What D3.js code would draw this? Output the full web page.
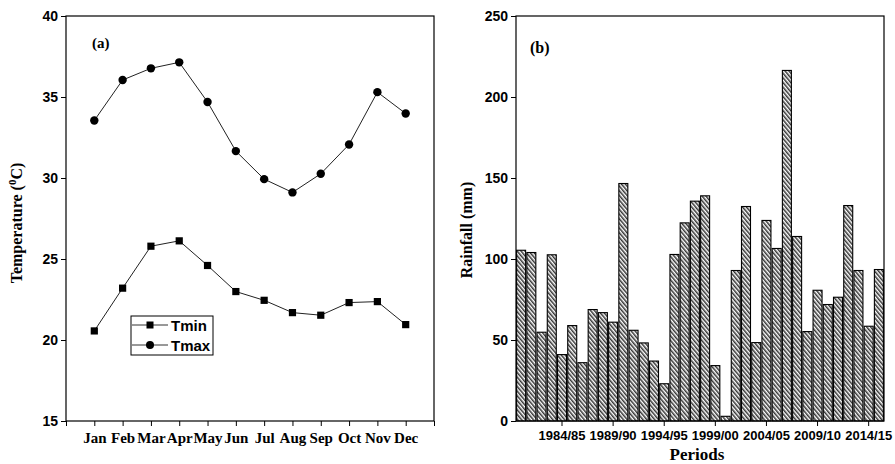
<!DOCTYPE html>
<html>
<head>
<meta charset="utf-8">
<script src="https://cdn.jsdelivr.net/npm/d3@7"></script>
<style>
  html, body { margin: 0; padding: 0; background: #fff; }
  svg { display: block; }
</style>
</head>
<body>
<svg id="chart" width="895" height="464"></svg>
<script>
// ---------- DATA ----------
const months = ["Jan","Feb","Mar","Apr","May","Jun","Jul","Aug","Sep","Oct","Nov","Dec"];
const tmin = [20.56, 23.2, 25.79, 26.12, 24.6, 22.99, 22.45, 21.69, 21.53, 22.31, 22.37, 20.95];
const tmax = [33.55, 36.05, 36.77, 37.14, 34.69, 31.66, 29.93, 29.11, 30.26, 32.07, 35.3, 33.98];
const tempTicks = [15, 20, 25, 30, 35, 40];

const periods = ["1980/81","1981/82","1982/83","1983/84","1984/85","1985/86","1986/87","1987/88","1988/89","1989/90",
  "1990/91","1991/92","1992/93","1993/94","1994/95","1995/96","1996/97","1997/98","1998/99","1999/00",
  "2000/01","2001/02","2002/03","2003/04","2004/05","2005/06","2006/07","2007/08","2008/09","2009/10",
  "2010/11","2011/12","2012/13","2013/14","2014/15","2015/16"];
const rainfall = [105.4, 104, 54.8, 102.6, 41, 58.9, 36, 68.8, 66.9, 61,
  146.6, 56, 48.2, 37, 23, 102.8, 122.3, 135.7, 139, 34.2,
  2.9, 92.9, 132.4, 48.4, 123.8, 106.5, 216.4, 113.9, 55.2, 80.7,
  71.9, 76.4, 133, 92.9, 58.5, 93.5];
const periodTicks = ["1984/85","1989/90","1994/95","1999/00","2004/05","2009/10","2014/15"];
const rainTicks = [0, 50, 100, 150, 200, 250];

// ---------- SETUP ----------
const svg = d3.select("#chart");
const SANS = "'Liberation Sans', Arial, sans-serif";
const SERIF = "'Liberation Serif', 'Times New Roman', serif";

const defs = svg.append("defs");
const pat = defs.append("pattern")
  .attr("id", "hatch")
  .attr("patternUnits", "userSpaceOnUse")
  .attr("width", 3).attr("height", 3)
  .attr("patternTransform", "rotate(-40)");
pat.append("rect").attr("width", 3).attr("height", 3).attr("fill", "#fff");
pat.append("line").attr("x1", 0.8).attr("y1", 0).attr("x2", 0.8).attr("y2", 3)
  .attr("stroke", "#111").attr("stroke-width", 1.3);

const plotTop = 16, plotBottom = 421;

function styleAxis(g, fontFamily, fontSize) {
  g.select(".domain").remove();
  g.selectAll(".tick line").attr("stroke", "#000").attr("stroke-width", 1);
  g.selectAll(".tick text")
    .attr("fill", "#000")
    .style("font-family", fontFamily)
    .style("font-weight", "bold")
    .style("font-size", fontSize + "px");
}

// ---------- PANEL A ----------
const xA = d3.scaleLinear().domain([0, 13]).range([66, 434]);
const yA = d3.scaleLinear().domain([15, 40]).range([plotBottom, plotTop]);

const gAy = svg.append("g").attr("transform", `translate(${xA.range()[0]},0)`)
  .call(d3.axisLeft(yA).tickValues(tempTicks).tickSize(5).tickPadding(3).tickFormat(d3.format("d")));
styleAxis(gAy, SANS, 14);

const gAx = svg.append("g").attr("transform", `translate(0,${plotBottom})`)
  .call(d3.axisBottom(xA).tickValues(d3.range(0, 14)).tickSize(5).tickPadding(6)
    .tickFormat(d => (d >= 1 && d <= 12) ? months[d - 1] : ""));
styleAxis(gAx, SERIF, 15);

svg.append("rect")
  .attr("x", xA.range()[0]).attr("y", plotTop)
  .attr("width", xA.range()[1] - xA.range()[0]).attr("height", plotBottom - plotTop)
  .attr("fill", "none").attr("stroke", "#000").attr("stroke-width", 1.2);

const lineA = d3.line().x((d, i) => xA(i + 1)).y(d => yA(d));
svg.append("path").datum(tmax).attr("d", lineA).attr("fill", "none").attr("stroke", "#222").attr("stroke-width", 1);
svg.append("path").datum(tmin).attr("d", lineA).attr("fill", "none").attr("stroke", "#222").attr("stroke-width", 1);

svg.append("g").selectAll("circle").data(tmax).join("circle")
  .attr("cx", (d, i) => xA(i + 1)).attr("cy", d => yA(d)).attr("r", 4.2).attr("fill", "#000");
svg.append("g").selectAll("rect").data(tmin).join("rect")
  .attr("x", (d, i) => xA(i + 1) - 3.6).attr("y", d => yA(d) - 3.6)
  .attr("width", 7.2).attr("height", 7.2).attr("fill", "#000");

// Legend
const leg = svg.append("g");
leg.append("rect").attr("x", 131).attr("y", 316).attr("width", 82).attr("height", 39)
  .attr("fill", "#fff").attr("stroke", "#000").attr("stroke-width", 1);
[{name: "Tmin", y: 325, sym: "square"}, {name: "Tmax", y: 345, sym: "circle"}].forEach(item => {
  leg.append("line").attr("x1", 132).attr("x2", 168).attr("y1", item.y).attr("y2", item.y)
    .attr("stroke", "#333").attr("stroke-width", 1);
  if (item.sym === "square") {
    leg.append("rect").attr("x", 146.5).attr("y", item.y - 3.5).attr("width", 7).attr("height", 7).attr("fill", "#000");
  } else {
    leg.append("circle").attr("cx", 150).attr("cy", item.y).attr("r", 4).attr("fill", "#000");
  }
  leg.append("text").attr("x", 171).attr("y", item.y + 5.5).text(item.name)
    .style("font-family", SANS).style("font-size", "15px").style("font-weight", "bold");
});

svg.append("text").attr("x", 92).attr("y", 48).text("(a)")
  .style("font-family", SERIF).style("font-size", "15px").style("font-weight", "bold");

const tA = svg.append("text")
  .attr("transform", "translate(22,223) rotate(-90)")
  .attr("text-anchor", "middle")
  .style("font-family", SERIF).style("font-size", "16px").style("font-weight", "bold");
tA.append("tspan").text("Temperature (");
tA.append("tspan").attr("dy", -6).style("font-size", "11px").text("0");
tA.append("tspan").attr("dy", 6).text("C)");

// ---------- PANEL B ----------
const xB = d3.scaleBand().domain(periods).range([516, 884]).paddingInner(0.12).paddingOuter(0.06);
const yB = d3.scaleLinear().domain([0, 250]).range([plotBottom, plotTop]);

const gBy = svg.append("g").attr("transform", `translate(${xB.range()[0]},0)`)
  .call(d3.axisLeft(yB).tickValues(rainTicks).tickSize(5).tickPadding(3).tickFormat(d3.format("d")));
styleAxis(gBy, SANS, 14);

const gBx = svg.append("g").attr("transform", `translate(0,${plotBottom})`)
  .call(d3.axisBottom(xB).tickValues(periodTicks).tickSize(5).tickPadding(5));
styleAxis(gBx, SANS, 13);

svg.append("g").selectAll("rect").data(rainfall).join("rect")
  .attr("x", (d, i) => xB(periods[i]))
  .attr("y", d => yB(d))
  .attr("width", xB.bandwidth())
  .attr("height", d => yB(0) - yB(d))
  .attr("fill", "url(#hatch)")
  .attr("stroke", "#000").attr("stroke-width", 1.1);

svg.append("rect")
  .attr("x", xB.range()[0]).attr("y", plotTop)
  .attr("width", xB.range()[1] - xB.range()[0]).attr("height", plotBottom - plotTop)
  .attr("fill", "none").attr("stroke", "#000").attr("stroke-width", 1.2);

svg.append("text").attr("x", 530).attr("y", 53).text("(b)")
  .style("font-family", SERIF).style("font-size", "16px").style("font-weight", "bold");

svg.append("text")
  .attr("transform", "translate(472,230) rotate(-90)")
  .attr("text-anchor", "middle")
  .style("font-family", SERIF).style("font-size", "16px").style("font-weight", "bold")
  .text("Rainfall (mm)");

svg.append("text").attr("x", 697).attr("y", 460).attr("text-anchor", "middle")
  .style("font-family", SERIF).style("font-size", "17px").style("font-weight", "bold")
  .text("Periods");
</script>
</body>
</html>
